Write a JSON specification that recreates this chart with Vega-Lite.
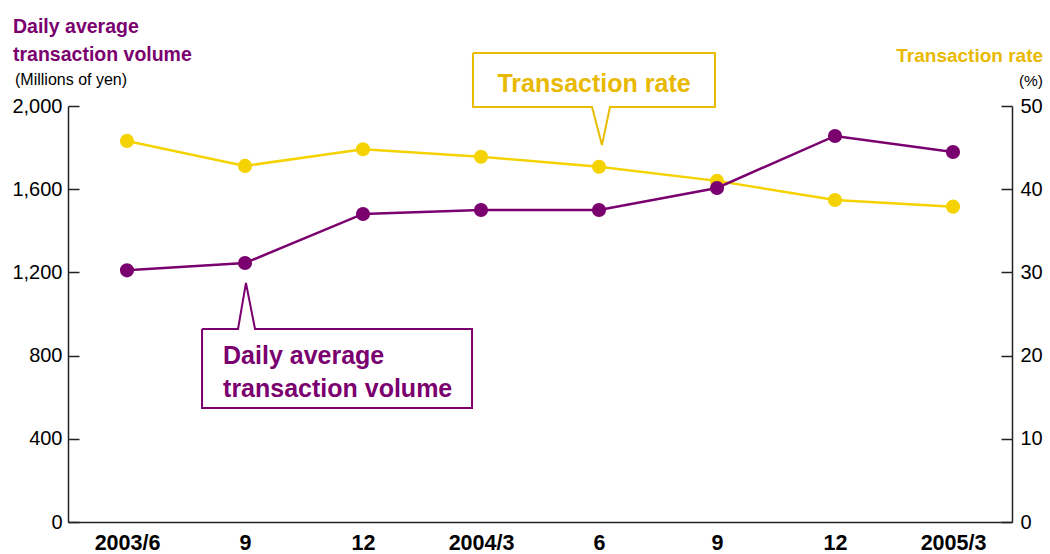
{
  "$schema": "https://vega.github.io/schema/vega-lite/v6.json",
  "autosize": "none",
  "width": 944,
  "height": 416,
  "padding": {"left": 68, "top": 106, "right": 38, "bottom": 32},
  "background": "white",
  "config": {"view": {"stroke": null}},
  "datasets": {
    "main": [
      {"i": 0, "vol": 1210, "rate": 45.8},
      {"i": 1, "vol": 1245, "rate": 42.8},
      {"i": 2, "vol": 1481, "rate": 44.8},
      {"i": 3, "vol": 1500, "rate": 43.9},
      {"i": 4, "vol": 1500, "rate": 42.7},
      {"i": 5, "vol": 1606, "rate": 41.0},
      {"i": 6, "vol": 1856, "rate": 38.7},
      {"i": 7, "vol": 1779, "rate": 37.9}
    ],
    "rateBox": [
      {"k": 0, "i": 2.932, "vol": 2255},
      {"k": 1, "i": 4.983, "vol": 2255},
      {"k": 2, "i": 4.983, "vol": 1995},
      {"k": 3, "i": 4.093, "vol": 1995},
      {"k": 4, "i": 4.025, "vol": 1812},
      {"k": 5, "i": 3.941, "vol": 1995},
      {"k": 6, "i": 2.932, "vol": 1995},
      {"k": 7, "i": 2.932, "vol": 2255}
    ],
    "volBox": [
      {"k": 0, "i": 0.636, "vol": 928},
      {"k": 1, "i": 0.941, "vol": 928},
      {"k": 2, "i": 1.008, "vol": 1149},
      {"k": 3, "i": 1.085, "vol": 928},
      {"k": 4, "i": 2.924, "vol": 928},
      {"k": 5, "i": 2.924, "vol": 548},
      {"k": 6, "i": 0.636, "vol": 548},
      {"k": 7, "i": 0.636, "vol": 928}
    ]
  },
  "encoding": {
    "x": {
      "field": "i",
      "type": "quantitative",
      "scale": {"domain": [-0.5, 7.5], "nice": false, "zero": false},
      "axis": {
        "orient": "bottom",
        "title": null,
        "values": [0, 1, 2, 3, 4, 5, 6, 7],
        "labelExpr": "['2003/6','9','12','2004/3','6','9','12','2005/3'][datum.value]",
        "ticks": false,
        "grid": false,
        "labelFlush": false,
        "labelFont": "Liberation Sans",
        "labelFontWeight": "bold",
        "labelFontSize": 21.5,
        "labelColor": "#000000",
        "labelPadding": 10,
        "domainColor": "#222222",
        "domainWidth": 1.5
      }
    }
  },
  "layer": [
    {
      "data": {"name": "main"},
      "encoding": {
        "y": {
          "field": "rate",
          "type": "quantitative",
          "scale": {"domain": [0, 50], "nice": false},
          "axis": {
            "orient": "right",
            "title": null,
            "values": [0, 10, 20, 30, 40, 50],
            "grid": false,
            "tickSize": -11,
            "tickColor": "#222222",
            "tickWidth": 1.5,
            "labelPadding": 19,
            "labelFont": "Liberation Sans",
            "labelFontSize": 20,
            "labelColor": "#000000",
            "domainColor": "#222222",
            "domainWidth": 1.5
          }
        }
      },
      "layer": [
        {"mark": {"type": "line", "color": "#F5D300", "strokeWidth": 2.5}},
        {"mark": {"type": "point", "filled": true, "opacity": 1, "size": 200, "color": "#F5D300"}}
      ]
    },
    {
      "encoding": {
        "y": {
          "field": "vol",
          "type": "quantitative",
          "scale": {"domain": [0, 2000], "nice": false},
          "axis": {
            "orient": "left",
            "title": null,
            "values": [0, 400, 800, 1200, 1600, 2000],
            "format": ",.0f",
            "grid": false,
            "tickSize": -11,
            "tickColor": "#222222",
            "tickWidth": 1.5,
            "labelPadding": 17,
            "labelFont": "Liberation Sans",
            "labelFontSize": 20,
            "labelColor": "#000000",
            "domainColor": "#222222",
            "domainWidth": 1.5
          }
        }
      },
      "layer": [
        {"data": {"name": "main"}, "mark": {"type": "line", "color": "#7B006F", "strokeWidth": 2.5}},
        {"data": {"name": "main"}, "mark": {"type": "point", "filled": true, "opacity": 1, "size": 200, "color": "#7B006F"}},
        {
          "data": {"name": "rateBox"},
          "mark": {"type": "line", "color": "#E8BC00", "strokeWidth": 2, "strokeJoin": "miter"},
          "encoding": {"order": {"field": "k", "type": "quantitative"}}
        },
        {
          "data": {"name": "volBox"},
          "mark": {"type": "line", "color": "#7B006F", "strokeWidth": 2, "strokeJoin": "miter"},
          "encoding": {"order": {"field": "k", "type": "quantitative"}}
        },
        {
          "data": {"values": [{"i": 3.958, "vol": 2067, "t": "Transaction rate"}]},
          "mark": {"type": "text", "align": "center", "baseline": "alphabetic", "font": "Liberation Sans", "fontWeight": "bold", "fontSize": 25, "color": "#E8B900"},
          "encoding": {"text": {"field": "t"}}
        },
        {
          "data": {"values": [
            {"i": 0.814, "vol": 760, "t": "Daily average"},
            {"i": 0.814, "vol": 601, "t": "transaction volume"}
          ]},
          "mark": {"type": "text", "align": "left", "baseline": "alphabetic", "font": "Liberation Sans", "fontWeight": "bold", "fontSize": 25, "color": "#7B006F"},
          "encoding": {"text": {"field": "t"}}
        },
        {
          "data": {"values": [
            {"i": -0.966, "vol": 2351, "t": "Daily average"},
            {"i": -0.966, "vol": 2216, "t": "transaction volume"}
          ]},
          "mark": {"type": "text", "align": "left", "baseline": "alphabetic", "font": "Liberation Sans", "fontWeight": "bold", "fontSize": 19.5, "color": "#7B006F"},
          "encoding": {"text": {"field": "t"}}
        },
        {
          "data": {"values": [{"i": -0.949, "vol": 2101, "t": "(Millions of yen)"}]},
          "mark": {"type": "text", "align": "left", "baseline": "alphabetic", "font": "Liberation Sans", "fontSize": 16, "color": "#000000"},
          "encoding": {"text": {"field": "t"}}
        },
        {
          "data": {"values": [{"i": 7.763, "vol": 2212, "t": "Transaction rate"}]},
          "mark": {"type": "text", "align": "right", "baseline": "alphabetic", "font": "Liberation Sans", "fontWeight": "bold", "fontSize": 19, "color": "#E8B900"},
          "encoding": {"text": {"field": "t"}}
        },
        {
          "data": {"values": [{"i": 7.763, "vol": 2096, "t": "(%)"}]},
          "mark": {"type": "text", "align": "right", "baseline": "alphabetic", "font": "Liberation Sans", "fontSize": 15.5, "color": "#000000"},
          "encoding": {"text": {"field": "t"}}
        }
      ]
    }
  ],
  "resolve": {"scale": {"y": "independent"}}
}
